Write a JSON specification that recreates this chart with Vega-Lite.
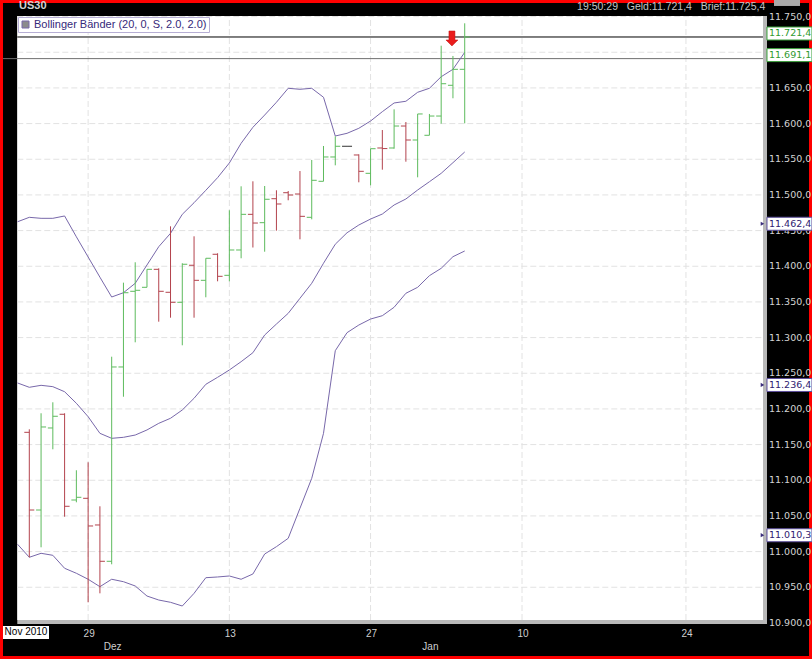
{
  "$schema": "https://vega.github.io/schema/vega-lite/v6.json",
  "width": 812,
  "height": 659,
  "autosize": {"type": "none"},
  "padding": 0,
  "background": "#ff0000",
  "datasets": {
    "bars": [
      {"t": 1, "date": "2010-11-23", "open": 11167.2, "high": 11171.4, "low": 10992.0, "close": 11058.3},
      {"t": 2, "date": "2010-11-24", "open": 11058.3, "high": 11193.9, "low": 11006.0, "close": 11174.7},
      {"t": 3, "date": "2010-11-25", "open": 11173.3, "high": 11209.3, "low": 11143.4, "close": 11189.7},
      {"t": 4, "date": "2010-11-26", "open": 11192.5, "high": 11193.9, "low": 11048.9, "close": 11063.5},
      {"t": 5, "date": "2010-11-28", "open": 11072.3, "high": 11114.0, "low": 11069.1, "close": 11076.1},
      {"t": 6, "date": "2010-11-29", "open": 11074.7, "high": 11125.2, "low": 10928.9, "close": 11035.9},
      {"t": 7, "date": "2010-11-30", "open": 11037.3, "high": 11063.5, "low": 10941.5, "close": 10986.4},
      {"t": 8, "date": "2010-12-01", "open": 10986.4, "high": 11273.2, "low": 10982.2, "close": 11258.8},
      {"t": 9, "date": "2010-12-02", "open": 11258.8, "high": 11377.0, "low": 11217.1, "close": 11362.9},
      {"t": 10, "date": "2010-12-03", "open": 11364.9, "high": 11405.6, "low": 11293.4, "close": 11366.3},
      {"t": 11, "date": "2010-12-05", "open": 11370.5, "high": 11395.7, "low": 11370.5, "close": 11395.7},
      {"t": 12, "date": "2010-12-06", "open": 11395.7, "high": 11397.1, "low": 11322.3, "close": 11364.9},
      {"t": 13, "date": "2010-12-07", "open": 11363.5, "high": 11456.0, "low": 11327.9, "close": 11349.5},
      {"t": 14, "date": "2010-12-08", "open": 11349.5, "high": 11404.2, "low": 11289.2, "close": 11402.8},
      {"t": 15, "date": "2010-12-09", "open": 11401.4, "high": 11442.0, "low": 11327.9, "close": 11380.3},
      {"t": 16, "date": "2010-12-10", "open": 11380.3, "high": 11411.2, "low": 11356.5, "close": 11411.2},
      {"t": 17, "date": "2010-12-12", "open": 11416.8, "high": 11418.2, "low": 11378.9, "close": 11385.9},
      {"t": 18, "date": "2010-12-13", "open": 11387.3, "high": 11478.5, "low": 11378.9, "close": 11422.8},
      {"t": 19, "date": "2010-12-14", "open": 11422.8, "high": 11512.1, "low": 11411.2, "close": 11472.8},
      {"t": 20, "date": "2010-12-15", "open": 11472.8, "high": 11519.1, "low": 11426.3, "close": 11460.6},
      {"t": 21, "date": "2010-12-16", "open": 11461.1, "high": 11512.5, "low": 11420.4, "close": 11493.9},
      {"t": 22, "date": "2010-12-17", "open": 11494.7, "high": 11506.5, "low": 11449.9, "close": 11487.3},
      {"t": 23, "date": "2010-12-19", "open": 11503.1, "high": 11505.5, "low": 11492.5, "close": 11499.9},
      {"t": 24, "date": "2010-12-20", "open": 11501.3, "high": 11533.5, "low": 11437.8, "close": 11470.0},
      {"t": 25, "date": "2010-12-21", "open": 11468.6, "high": 11549.0, "low": 11465.8, "close": 11520.5},
      {"t": 26, "date": "2010-12-22", "open": 11519.1, "high": 11568.6, "low": 11519.1, "close": 11553.2},
      {"t": 27, "date": "2010-12-23", "open": 11553.2, "high": 11582.2, "low": 11541.5, "close": 11568.2},
      {"t": 28, "date": "2010-12-24", "open": 11568.2, "high": 11568.2, "low": 11568.2, "close": 11568.2},
      {"t": 29, "date": "2010-12-26", "open": 11556.0, "high": 11556.9, "low": 11517.7, "close": 11533.1},
      {"t": 30, "date": "2010-12-27", "open": 11530.3, "high": 11564.8, "low": 11513.5, "close": 11564.8},
      {"t": 31, "date": "2010-12-28", "open": 11565.8, "high": 11591.0, "low": 11535.4, "close": 11565.0},
      {"t": 32, "date": "2010-12-29", "open": 11565.8, "high": 11620.0, "low": 11564.8, "close": 11596.6},
      {"t": 33, "date": "2010-12-30", "open": 11596.6, "high": 11602.2, "low": 11546.6, "close": 11577.0},
      {"t": 34, "date": "2010-12-31", "open": 11577.0, "high": 11613.5, "low": 11524.7, "close": 11613.5},
      {"t": 35, "date": "2011-01-02", "open": 11583.6, "high": 11613.5, "low": 11583.6, "close": 11610.6},
      {"t": 36, "date": "2011-01-03", "open": 11610.6, "high": 11709.2, "low": 11599.9, "close": 11655.9},
      {"t": 37, "date": "2011-01-04", "open": 11653.7, "high": 11694.8, "low": 11635.5, "close": 11676.1},
      {"t": 38, "date": "2011-01-05", "open": 11676.1, "high": 11740.6, "low": 11600.4, "close": 11721.4}
    ],
    "bands": [
      {"t": 0, "upper": 11462.4, "middle": 11236.4, "lower": 11010.3},
      {"t": 1, "upper": 11468.6, "middle": 11230.3, "lower": 10992.0},
      {"t": 2, "upper": 11467.2, "middle": 11233.1, "lower": 10997.6},
      {"t": 3, "upper": 11467.2, "middle": 11231.2, "lower": 10994.8},
      {"t": 4, "upper": 11470.5, "middle": 11224.1, "lower": 10976.6},
      {"t": 5, "upper": 11441.3, "middle": 11207.9, "lower": 10969.6},
      {"t": 6, "upper": 11413.0, "middle": 11189.1, "lower": 10961.2},
      {"t": 7, "upper": 11384.7, "middle": 11165.8, "lower": 10950.8},
      {"t": 8, "upper": 11356.9, "middle": 11158.8, "lower": 10961.2},
      {"t": 9, "upper": 11362.9, "middle": 11160.2, "lower": 10957.8},
      {"t": 10, "upper": 11376.1, "middle": 11163.4, "lower": 10951.8},
      {"t": 11, "upper": 11401.8, "middle": 11170.5, "lower": 10937.7},
      {"t": 12, "upper": 11427.4, "middle": 11179.8, "lower": 10932.1},
      {"t": 13, "upper": 11446.2, "middle": 11186.9, "lower": 10928.9},
      {"t": 14, "upper": 11472.8, "middle": 11198.5, "lower": 10923.7},
      {"t": 15, "upper": 11489.1, "middle": 11214.9, "lower": 10941.5},
      {"t": 16, "upper": 11506.5, "middle": 11234.5, "lower": 10963.4},
      {"t": 17, "upper": 11524.2, "middle": 11244.3, "lower": 10964.4},
      {"t": 18, "upper": 11544.8, "middle": 11254.6, "lower": 10965.8},
      {"t": 19, "upper": 11572.4, "middle": 11266.2, "lower": 10961.2},
      {"t": 20, "upper": 11594.8, "middle": 11278.8, "lower": 10968.6},
      {"t": 21, "upper": 11612.0, "middle": 11303.6, "lower": 10996.6},
      {"t": 22, "upper": 11629.9, "middle": 11319.0, "lower": 11006.9},
      {"t": 23, "upper": 11649.5, "middle": 11334.0, "lower": 11018.6},
      {"t": 24, "upper": 11648.1, "middle": 11355.1, "lower": 11060.7},
      {"t": 25, "upper": 11649.5, "middle": 11376.1, "lower": 11102.7},
      {"t": 26, "upper": 11636.9, "middle": 11404.2, "lower": 11165.8},
      {"t": 27, "upper": 11582.6, "middle": 11430.9, "lower": 11281.6},
      {"t": 28, "upper": 11586.4, "middle": 11447.0, "lower": 11306.9},
      {"t": 29, "upper": 11593.4, "middle": 11457.8, "lower": 11317.6},
      {"t": 30, "upper": 11603.6, "middle": 11466.2, "lower": 11326.0},
      {"t": 31, "upper": 11616.7, "middle": 11473.2, "lower": 11330.7},
      {"t": 32, "upper": 11628.9, "middle": 11485.9, "lower": 11342.5},
      {"t": 33, "upper": 11631.3, "middle": 11494.3, "lower": 11362.1},
      {"t": 34, "upper": 11643.9, "middle": 11506.9, "lower": 11370.5},
      {"t": 35, "upper": 11649.5, "middle": 11518.5, "lower": 11386.8},
      {"t": 36, "upper": 11665.7, "middle": 11530.3, "lower": 11397.1},
      {"t": 37, "upper": 11676.1, "middle": 11545.2, "lower": 11413.4},
      {"t": 38, "upper": 11699.9, "middle": 11560.2, "lower": 11421.4}
    ],
    "bandstart": [
      {"band": "upper", "value": 11462.4},
      {"band": "middle", "value": 11236.4},
      {"band": "lower", "value": 11010.3}
    ],
    "quotes": [
      {"name": "Geld", "price": 11721.4},
      {"name": "Linie", "price": 11691.1}
    ],
    "yticks": [
      {"level": 10900}, {"level": 10950}, {"level": 11000}, {"level": 11050}, {"level": 11100}, {"level": 11150},
      {"level": 11200}, {"level": 11250}, {"level": 11300}, {"level": 11350}, {"level": 11400},
      {"level": 11450}, {"level": 11500}, {"level": 11550}, {"level": 11600}, {"level": 11650},
      {"level": 11700}, {"level": 11750}
    ],
    "xticks": [
      {"t": 6, "label": "29"}, {"t": 18, "label": "13"}, {"t": 30, "label": "27"}, {"t": 42.87, "label": "10"}, {"t": 56.8, "label": "24"}
    ],
    "months": [
      {"t": 8, "label": "Dez"},
      {"t": 35, "label": "Jan"}
    ]
  },
  "layer": [
    {
      "data": {"values": [{}]},
      "mark": {"type": "rect", "fill": "#b9b9b9"},
      "encoding": {
        "x": {"datum": -0.02, "type": "quantitative", "scale": {"domain": [-1.4898, 67.5109], "nice": false, "zero": false}, "axis": null},
        "x2": {"datum": 63.687},
        "y": {"datum": 10898.47, "type": "quantitative", "scale": {"domain": [10849.42, 11773.27], "nice": false, "zero": false}, "axis": null},
        "y2": {"datum": 11750.84}
      }
    },
    {
      "data": {"values": [{}]},
      "mark": {"type": "rect", "fill": "#ffffff"},
      "encoding": {
        "x": {"datum": -0.02, "type": "quantitative", "axis": null},
        "x2": {"datum": 63.347},
        "y": {"datum": 10904.09, "type": "quantitative", "axis": null},
        "y2": {"datum": 11750.84}
      }
    },
    {
      "data": {"name": "yticks"},
      "transform": [{"filter": "datum.level > 10900"}],
      "mark": {"type": "rule", "color": "#e2e2e2", "strokeDash": [6, 3], "strokeWidth": 1},
      "encoding": {
        "y": {"field": "level", "type": "quantitative", "axis": null},
        "x": {"datum": -0.02, "type": "quantitative", "axis": null},
        "x2": {"datum": 63.347}
      }
    },
    {
      "data": {"name": "xticks"},
      "mark": {"type": "rule", "color": "#e2e2e2", "strokeDash": [6, 3], "strokeWidth": 1},
      "encoding": {
        "x": {"field": "t", "type": "quantitative", "axis": null},
        "y": {"datum": 10904.09, "type": "quantitative", "axis": null},
        "y2": {"datum": 11750.84}
      }
    },
    {
      "data": {"name": "yticks"},
      "transform": [{"filter": "datum.level != 11700"}],
      "mark": {"type": "text", "align": "left", "baseline": "middle", "font": "DejaVu Sans", "fontSize": 9.5, "color": "#d4d4d4", "xOffset": 6},
      "encoding": {
        "x": {"datum": 63.347, "type": "quantitative", "axis": null},
        "y": {"field": "level", "type": "quantitative", "axis": null},
        "text": {"field": "level", "type": "quantitative", "format": ",.1f"}
      }
    },
    {
      "data": {"name": "xticks"},
      "mark": {"type": "text", "align": "center", "baseline": "middle", "font": "Liberation Sans", "fontSize": 10, "color": "#cfcfcf", "xOffset": 1},
      "encoding": {
        "x": {"field": "t", "type": "quantitative", "axis": null},
        "y": {"datum": 10884.9, "type": "quantitative", "axis": null},
        "text": {"field": "label"}
      }
    },
    {
      "data": {"name": "quotes"},
      "transform": [{"filter": "datum.name == 'Linie'"}],
      "mark": {"type": "rule", "color": "#707070", "strokeWidth": 1},
      "encoding": {
        "y": {"field": "price", "type": "quantitative", "axis": null},
        "x": {"datum": -1.235, "type": "quantitative", "axis": null},
        "x2": {"datum": 63.347}
      }
    },
    {
      "data": {"name": "quotes"},
      "transform": [{"filter": "datum.name == 'Geld'"}],
      "mark": {"type": "rule", "color": "#000000", "strokeWidth": 1},
      "encoding": {
        "y": {"field": "price", "type": "quantitative", "axis": null},
        "x": {"datum": -0.02, "type": "quantitative", "axis": null},
        "x2": {"datum": 63.347}
      }
    },
    {
      "data": {"name": "bands"},
      "transform": [{"fold": ["upper", "middle", "lower"], "as": ["band", "value"]}],
      "mark": {"type": "line", "strokeWidth": 1, "interpolate": "linear"},
      "encoding": {
        "x": {"field": "t", "type": "quantitative", "axis": null},
        "y": {"field": "value", "type": "quantitative", "axis": null},
        "detail": {"field": "band"},
        "stroke": {
          "datum": "Bollinger Bänder (20, 0, S, 2.0, 2.0)", "type": "nominal",
          "scale": {"range": ["#7868aa"]},
          "legend": {
            "orient": "none", "legendX": 18, "legendY": 17, "title": null, "direction": "vertical",
            "symbolType": "square", "symbolSize": 49, "symbolStrokeWidth": 1, "symbolOffset": 0,
            "labelFont": "Liberation Sans", "labelFontSize": 11, "labelColor": "#35297a", "labelOffset": 3, "labelLimit": 400,
            "padding": 2, "strokeColor": "#b6aed4", "fillColor": "#ffffff", "rowPadding": 0,
            "encode": {"symbols": {"update": {"fill": {"value": "#8c8c8c"}, "stroke": {"value": "#8c8c8c"}, "opacity": {"value": 1}}}}
          }
        }
      }
    },
    {
      "data": {"name": "bars"},
      "mark": {"type": "rule", "strokeWidth": 1},
      "encoding": {
        "x": {"field": "t", "type": "quantitative", "axis": null},
        "y": {"field": "low", "type": "quantitative", "axis": null},
        "y2": {"field": "high"},
        "color": {"condition": [{"test": "datum.close > datum.open", "value": "#5dbb5d"}, {"test": "datum.close < datum.open", "value": "#b3434d"}], "value": "#333333"}
      }
    },
    {
      "data": {"name": "bars"},
      "mark": {"type": "rule", "strokeWidth": 1, "xOffset": -5},
      "encoding": {
        "x": {"field": "t", "type": "quantitative", "axis": null},
        "x2": {"field": "t"},
        "y": {"field": "open", "type": "quantitative", "axis": null},
        "color": {"condition": [{"test": "datum.close > datum.open", "value": "#5dbb5d"}, {"test": "datum.close < datum.open", "value": "#b3434d"}], "value": "#333333"}
      }
    },
    {
      "data": {"name": "bars"},
      "mark": {"type": "rule", "strokeWidth": 1, "x2Offset": 5},
      "encoding": {
        "x": {"field": "t", "type": "quantitative", "axis": null},
        "x2": {"field": "t"},
        "y": {"field": "close", "type": "quantitative", "axis": null},
        "color": {"condition": [{"test": "datum.close > datum.open", "value": "#5dbb5d"}, {"test": "datum.close < datum.open", "value": "#b3434d"}], "value": "#333333"}
      }
    },
    {
      "data": {"name": "bars"},
      "transform": [{"filter": "datum.t == 37"}],
      "mark": {"type": "point", "shape": "M-0.4,-1L0.4,-1L0.4,0.2L0.8,0.2L0,1L-0.8,0.2L-0.4,0.2Z", "size": 225, "filled": true, "fill": "#ea1c1c", "stroke": "#c01010", "strokeWidth": 0.5, "opacity": 1, "yOffset": -17.5, "xOffset": -1},
      "encoding": {
        "x": {"field": "t", "type": "quantitative", "axis": null},
        "y": {"field": "high", "type": "quantitative", "axis": null}
      }
    },
    {
      "data": {"name": "quotes"},
      "mark": {"type": "point", "shape": "M-1,-0.289L1,-0.289L1,0.289L-1,0.289Z", "size": 2025, "filled": true, "fill": "#ffffff", "stroke": "#3aa03a", "strokeWidth": 1, "opacity": 1, "xOffset": 26.5, "yOffset": -3.5},
      "encoding": {
        "x": {"datum": 63.347, "type": "quantitative", "axis": null},
        "y": {"field": "price", "type": "quantitative", "axis": null}
      }
    },
    {
      "data": {"name": "quotes"},
      "mark": {"type": "text", "align": "left", "baseline": "middle", "font": "DejaVu Sans", "fontSize": 9.5, "color": "#2f9a2f", "xOffset": 6, "yOffset": -3.5},
      "encoding": {
        "x": {"datum": 63.347, "type": "quantitative", "axis": null},
        "y": {"field": "price", "type": "quantitative", "axis": null},
        "text": {"field": "price", "type": "quantitative", "format": ",.1f"}
      }
    },
    {
      "data": {"name": "bandstart"},
      "transform": [{"filter": "datum.band != 'lower'"}],
      "mark": {"type": "point", "shape": "triangle-right", "size": 18, "filled": true, "fill": "#3c2f7c", "opacity": 1, "xOffset": -0.5, "yOffset": 2},
      "encoding": {
        "x": {"datum": 63.347, "type": "quantitative", "axis": null},
        "y": {"field": "value", "type": "quantitative", "axis": null}
      }
    },
    {
      "data": {"name": "bandstart"},
      "transform": [{"filter": "datum.band != 'lower'"}],
      "mark": {"type": "point", "shape": "M-1,-0.289L1,-0.289L1,0.289L-1,0.289Z", "size": 2025, "filled": true, "fill": "#ffffff", "stroke": "#5a4c9a", "strokeWidth": 1, "opacity": 1, "xOffset": 26.5, "yOffset": 2},
      "encoding": {
        "x": {"datum": 63.347, "type": "quantitative", "axis": null},
        "y": {"field": "value", "type": "quantitative", "axis": null}
      }
    },
    {
      "data": {"name": "bandstart"},
      "transform": [{"filter": "datum.band != 'lower'"}],
      "mark": {"type": "text", "align": "left", "baseline": "middle", "font": "DejaVu Sans", "fontSize": 9.5, "color": "#2e2170", "xOffset": 6, "yOffset": 2},
      "encoding": {
        "x": {"datum": 63.347, "type": "quantitative", "axis": null},
        "y": {"field": "value", "type": "quantitative", "axis": null},
        "text": {"field": "value", "type": "quantitative", "format": ",.1f"}
      }
    },
    {
      "data": {"name": "bandstart"},
      "transform": [{"filter": "datum.band == 'lower'"}],
      "mark": {"type": "point", "shape": "triangle-right", "size": 18, "filled": true, "fill": "#3c2f7c", "opacity": 1, "xOffset": -0.5, "yOffset": -9},
      "encoding": {
        "x": {"datum": 63.347, "type": "quantitative", "axis": null},
        "y": {"field": "value", "type": "quantitative", "axis": null}
      }
    },
    {
      "data": {"name": "bandstart"},
      "transform": [{"filter": "datum.band == 'lower'"}],
      "mark": {"type": "point", "shape": "M-1,-0.289L1,-0.289L1,0.289L-1,0.289Z", "size": 2025, "filled": true, "fill": "#ffffff", "stroke": "#5a4c9a", "strokeWidth": 1, "opacity": 1, "xOffset": 26.5, "yOffset": -9},
      "encoding": {
        "x": {"datum": 63.347, "type": "quantitative", "axis": null},
        "y": {"field": "value", "type": "quantitative", "axis": null}
      }
    },
    {
      "data": {"name": "bandstart"},
      "transform": [{"filter": "datum.band == 'lower'"}],
      "mark": {"type": "text", "align": "left", "baseline": "middle", "font": "DejaVu Sans", "fontSize": 9.5, "color": "#2e2170", "xOffset": 6, "yOffset": -9},
      "encoding": {
        "x": {"datum": 63.347, "type": "quantitative", "axis": null},
        "y": {"field": "value", "type": "quantitative", "axis": null},
        "text": {"field": "value", "type": "quantitative", "format": ",.1f"}
      }
    },
    {
      "data": {"values": [{"label": "US30"}]},
      "mark": {"type": "text", "align": "left", "baseline": "alphabetic", "font": "Liberation Sans", "fontWeight": "bold", "fontSize": 11, "color": "#d2d2d2"},
      "encoding": {
        "x": {"datum": 0.125, "type": "quantitative", "axis": null},
        "y": {"datum": 11760.65, "type": "quantitative", "axis": null},
        "text": {"field": "label"}
      }
    },
    {
      "data": {"values": [{"label": "19:50:29 \u00a0 Geld:11.721,4 \u00a0 Brief:11.725,4"}]},
      "mark": {"type": "text", "align": "right", "baseline": "alphabetic", "font": "Liberation Sans", "fontSize": 10.5, "color": "#c4c4c4"},
      "encoding": {
        "x": {"datum": 63.54, "type": "quantitative", "axis": null},
        "y": {"datum": 11759.25, "type": "quantitative", "axis": null},
        "text": {"field": "label"}
      }
    },
    {
      "data": {"values": [{}]},
      "mark": {"type": "rect", "fill": "#a9a9a9"},
      "encoding": {
        "x": {"datum": 64.28, "type": "quantitative", "axis": null},
        "x2": {"datum": 66.49},
        "y": {"datum": 11764.9, "type": "quantitative", "axis": null},
        "y2": {"datum": 11773.27}
      }
    },
    {
      "data": {"name": "months"},
      "mark": {"type": "text", "align": "center", "baseline": "middle", "font": "Liberation Sans", "fontSize": 10, "color": "#cfcfcf", "xOffset": 1},
      "encoding": {
        "x": {"field": "t", "type": "quantitative", "axis": null},
        "y": {"datum": 10866.8, "type": "quantitative", "axis": null},
        "text": {"field": "label"}
      }
    },
    {
      "data": {"values": [{"label": "Nov 2010"}]},
      "mark": {"type": "point", "shape": "M-1,-0.283L1,-0.283L1,0.283L-1,0.283Z", "size": 2116, "filled": true, "fill": "#ffffff", "opacity": 1, "xOffset": 26},
      "encoding": {
        "x": {"datum": -1.4898, "type": "quantitative", "axis": null},
        "y": {"datum": 10886.6, "type": "quantitative", "axis": null}
      }
    },
    {
      "data": {"values": [{"label": "Nov 2010"}]},
      "mark": {"type": "text", "align": "center", "baseline": "middle", "font": "Liberation Sans", "fontSize": 10, "color": "#000000", "xOffset": 26},
      "encoding": {
        "x": {"datum": -1.4898, "type": "quantitative", "axis": null},
        "y": {"datum": 10886.6, "type": "quantitative", "axis": null},
        "text": {"field": "label"}
      }
    }
  ],
  "config": {
    "view": {"fill": "#000000", "stroke": "#ff0000", "strokeWidth": 6},
    "locale": {"number": {"decimal": ",", "thousands": ".", "grouping": [3], "currency": ["", " €"]}}
  }
}
